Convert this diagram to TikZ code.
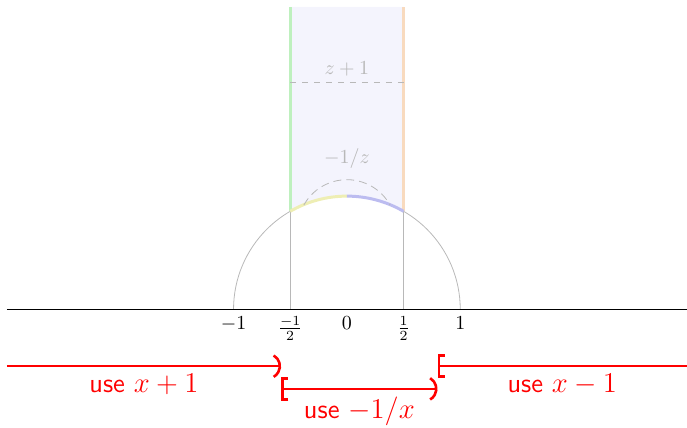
\documentclass[tikz,border=0pt]{standalone}
\usepackage{amsmath}
\usetikzlibrary{arrows.meta}
\definecolor{stripfill}{RGB}{244,244,253}
\definecolor{leftedge}{RGB}{190,240,190}
\definecolor{rightedge}{RGB}{248,218,190}
\definecolor{lowleft}{RGB}{238,238,180}
\definecolor{lowright}{RGB}{188,188,240}
\tikzset{
    axis/.style = {
        thick
    },
    guide/.style = {
        black!28
    },
    guidelabel/.style = {
        text=black!28
    },
    boundary/.style = {
        line width=1.5pt
    },
    interval/.style = {
        line width=1.3pt, red
    },
    uselabel/.style = {
        red, font=\sffamily\fontsize{13.6}{16}\selectfont, below
    }
}

\begin{document}
\begin{tikzpicture}[x=2cm, y=2cm]
\useasboundingbox (-3.06,-1.04) rectangle (3.0,2.73);

% fundamental domain
\fill[stripfill] (-0.5,2.67) -- (-0.5,0.866) arc (120:60:1) -- (0.5,2.67) -- cycle;
\draw[guide] (1,0) arc (0:180:1);
\draw[guide] (-0.5,0) -- (-0.5,0.866);
\draw[guide] (0.5,0) -- (0.5,0.866);
\draw[boundary, leftedge] (-0.5,0.866) -- (-0.5,2.67);
\draw[boundary, rightedge] (0.5,0.866) -- (0.5,2.67);
\draw[boundary, lowleft] (-0.5,0.866) arc (120:90:1);
\draw[boundary, lowright] (0,1) arc (90:60:1);

% the two maps
\draw[guide, dashed] (-0.5,2) -- node[above, guidelabel] (shift) {$z+1$} (0.5,2);
\draw[guide, dash pattern=on 4pt off 2.5pt] (-0.38,0.921) arc (151:29:0.435);
\node[guidelabel] (invert) at (0,1.33) {$-1/z$};

% real line
\draw[axis] (-3,0) -- (3,0);
\foreach \x/\t [count=\i] in {-1/$-1$, -0.5/$\frac{-1}{2}$, 0/$0$, 0.5/$\frac{1}{2}$, 1/$1$}
    \node[below] (tick\i) at (\x,0) {\t};

% which map to use
\draw[interval, -{Parenthesis[scale=1.45]}] (-3,-0.5) -- node[uselabel] (useshift) {use $x+1$} (-0.58,-0.5);
\draw[interval, {Bracket[scale=1.45]}-{Parenthesis[scale=1.45]}] (-0.58,-0.7) -- node[uselabel] (useinv) {use $-1/x$} (0.8,-0.7);
\draw[interval, {Bracket[scale=1.45]}-] (0.8,-0.5) -- node[uselabel] (useback) {use $x-1$} (3,-0.5);

\end{tikzpicture}
\end{document}
